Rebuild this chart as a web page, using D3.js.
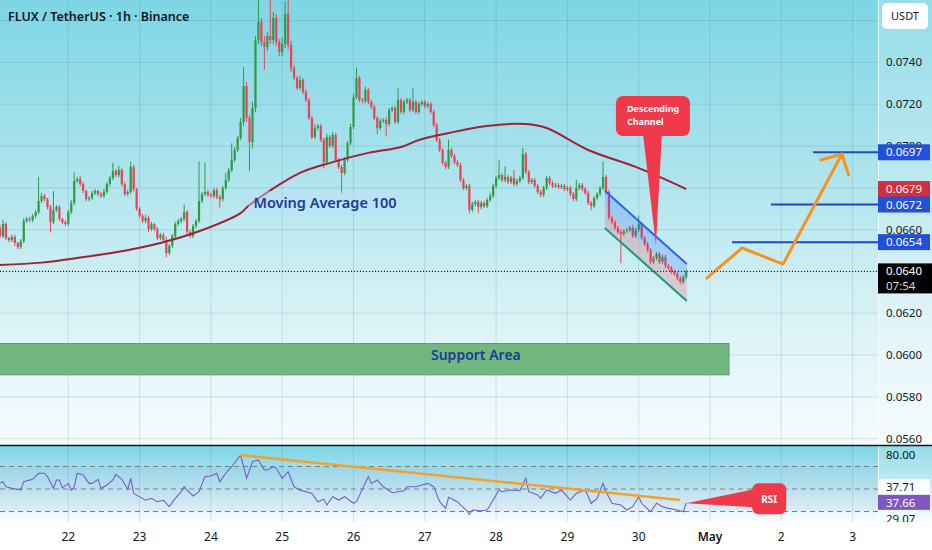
<!DOCTYPE html>
<html>
<head>
<meta charset="utf-8">
<script src="https://cdn.jsdelivr.net/npm/d3@7"></script>
<style>
  body { margin: 0; background: #fff; }
  svg { display: block; }
  text { font-family: "Noto Sans", sans-serif; }
</style>
</head>
<body>
<div id="chart"></div>
<script>
// FLUX/USDT 1h candles. Prices in units of 0.0001 USDT
// (660.8 -> 0.06608). Open of each candle is the previous close.
var firstCandle = Date.UTC(2025, 3, 21, 0);
var firstOpen = 655.0;

var close21 = [660.8,656.9,662.7,656.0,655.0,656.5,653.6,651.7,654.5,664.1,665.1,664.6,666.5,668.4,673.7,676.1,674.6,670.8,663.6,669.4,670.8,665.1,663.6,662.7];
var close22 = [668.4,672.7,683.3,684.2,681.8,678.5,674.6,675.1,677.5,678.5,677.0,676.1,678.0,681.8,684.7,688.0,686.1,688.5,681.8,677.0,678.0,690.0,679.4,669.9];
var close23 = [666.5,664.1,665.6,660.3,662.7,660.3,656.0,657.4,655.0,648.8,652.2,656.9,662.7,664.1,665.1,668.4,658.9,656.9,661.7,664.1,673.7,677.0,678.0,676.6];
var close24 = [676.1,678.9,675.6,674.6,679.9,683.7,688.5,693.3,698.1,703.8,711.5,728.7,713.4,701.9,718.2,750.7,759.3,749.8,747.4,752.6,750.7,761.2,749.8,745.0];
var close25 = [748.8,763.2,748.3,737.3,732.5,727.8,731.6,725.8,722.0,713.4,704.3,708.6,709.6,702.9,692.3,704.3,700.0,705.3,693.3,690.0,687.1,693.3,701.4,709.1];
var close26 = [723.4,732.5,722.0,721.5,726.8,721.1,718.7,713.4,708.6,712.0,712.4,710.5,717.2,718.2,711.5,722.0,716.3,721.1,722.0,717.2,721.1,716.3,720.1,721.1];
var close27 = [719.1,720.1,716.3,710.0,702.9,698.1,691.9,690.0,698.1,695.2,692.3,690.9,683.7,679.9,680.9,669.4,672.3,673.2,670.8,672.7,671.3,674.2,676.1,680.9];
var close28 = [684.7,686.1,683.7,685.2,682.8,684.7,681.8,683.3,684.7,696.2,687.6,682.8,683.7,680.9,678.0,676.6,679.9,684.7,682.3,680.9,681.3,680.4,680.9,679.4];
var close29 = [679.9,677.0,674.6,679.9,681.3,679.4,677.5,672.7,671.3,675.1,677.0,679.9,685.2,678.0,665.6,663.6,660.8,658.9,657.9,659.3,659.8,660.8,656.9,659.8];
var close30 = [662.7,656.0,653.1,650.2,644.5,646.4,648.3,644.5,646.9,642.6,641.6,639.7,638.8,636.8,634.9,637.3,640.0];

// upper / lower wick beyond the body, same units
var wickUp = [].concat(
  [1,1.5,2,1,0.5,1,1,0.5,1,1.5,1,1,1,1,11.5,1.5,1,0.5,1,9,1,1,0.5,1],
  [1,1.5,4,1,1.5,1,0.5,1,1,1,0.5,1,1.5,1,1,4,1,2,1,1,1,2.5,1,0.5],
  [1,1,1.5,1,1,0.5,1,1,1,1.5,1,1,1,1,1,3.5,1,1,1,1,19,1,14,1],
  [1,1,1,1,1,3.5,1,8,1.5,1,2,9,2,1.5,3,2,11,2,3,2,20,3,2,1.5],
  [3,6,7,2,1.5,1,2,1,1.5,1,1,2,1,1,1,1.5,1,1.5,1,1,1,1.5,1,1.5],
  [1.5,5,1,1,1.5,1,1,1,1,1,1,1.5,1,1,1,6,1,1,1,1,6.5,1,1,1],
  [1,1,1,1,1,1,1,1,5,1,1,1,1,1,1,1,1,1,1,1,1,1,1.5,1],
  [1,7,1,5,1,1,4,1,1,3,1,1,1,1,1,1,1,1,1,1,1,1,1,1],
  [1,1,1,4,1,1,1,1,1,1,1,1,7.5,1,1,1,1,1,1,1,1,1,1.5,1],
  [4,1,1,1,1,1,1,1,1,1,1,1,1,1,1,1,1]);
var wickDown = [].concat(
  [1,1,1,1,1,1,1.5,1,1,1,1,1,1,1,1,1,1,1,5,1,1,1,1,1],
  [1,1,1,1,1,1,1,1,1,1,1,1,1,1,1,1,1,1,1,1,1,1,1,1],
  [1,1,1,1.5,1,1,1,1,1,2,1,1,1,1,1,1,1,1,1,1,1,1,1,1],
  [1,1,1,4,1,1,1,1,1,1,1,2,2,14,3,2,2,2,11,2,2,2,2,2],
  [2,2,2,2,1,1,1,1,1,1,1,1,1,1,3,1,1,1,1,1,10,1,1,1],
  [1,1,1,1,1,1,1,1,3,1,1,6,1,1,1,1,1,1,1,1,1,1,1,1],
  [1,1,1,1,1,1,1,1,1,1,1,1,1,1,1,1.5,1,1,3,1,1,1,1,1],
  [1,1,1,1,1,1,1,1,1,1,1,1,1,1,1,1,1,1,1,1,1,1,1,1],
  [1,1,1,1,1,1,1,1,2,1,1,1,1,1,1,1,1,1,14,1,1,1,1,1],
  [1,1,1,1,1,1,1,1,1,1,1,1,1,1,1,1,1]);

// moving average 100: [hour from first candle, price]
var ma100 = [[0,643.0],[15,644.2],[28,646.6],[41,649.4],[55,653.6],[68,659.2],[82,667.9],[85,671.8],
  [102,687.1],[113,692.3],[125,696.7],[136,699.5],[142,702.9],[152,706.2],[165,709.6],[178,710.5],
  [185,708.6],[199,698.1],[215,690.0],[223,685.2],[232,679.4]];

// RSI(14): [hour, value]
var rsiPts = [[1,55],[2,56.5],[3,52],[5,50.6],[7,49.7],[8,49],[9,56.5],[12,58.6],[14,64],[16,64],[17,61],
  [19,50.6],[20,58],[21,58],[22,51],[24,55],[25,49],[26,52],[27,64],[29,62.4],[31,55],[32,55],[34,58.6],
  [35,50.6],[37,53.6],[39,58],[40,63],[42,58.6],[44,49.7],[45,59.5],[46,46],[48,43],[50,40],[52,41.7],
  [54,38.7],[56,40],[57,37.3],[58,34.3],[60,41.7],[62,47.6],[63,52],[64,49],[66,43.8],[68,47.6],[70,61],
  [72,61.6],[74,64],[75,56.5],[77,64],[79,69.8],[82,80.2],[84,59.5],[86,74.3],[88,75.8],[90,66.9],[91,66.9],
  [93,69.8],[94,68.4],[96,59.5],[98,65.4],[100,52],[102,49],[104,47.6],[106,46],[108,38.7],[110,40.8],
  [111,35.8],[113,43.2],[115,40.2],[117,43.2],[120,37.3],[121,38.7],[125,61],[126,55],[128,58],[130,52],
  [133,46.7],[135,47.6],[137,48.5],[138,52],[141,52],[143,53.6],[145,55],[147,52],[149,38.7],[151,32.8],
  [152,42.6],[155,38.7],[156,35.8],[158,31.3],[159,27.5],[160,31.3],[163,30.7],[165,31.3],[167,40.2],
  [169,49.1],[170,47.6],[173,49.1],[176,48.5],[178,59.5],[179,47.6],[182,44.7],[183,41.7],[185,49.1],
  [188,46.2],[190,49.1],[193,40.2],[195,46.2],[198,49.1],[200,37.3],[202,41.7],[204,55],[205,47.6],
  [207,37.3],[210,35.8],[212,31.3],[214,34.3],[216,43.2],[217,37.3],[220,29.8],[222,37.3],[224,34.3],
  [226,32.8],[229,31.3],[231,29.8],[232,37.66]];
var rsiTrend = [[81.8,80.2],[229.9,40.2]];
var rsiBands = [70, 50, 30];
var rsiAxisLabels = ["80.00", "37.71", "37.66", "29.07"];

// drawings
var supportZone = {from: -30, to: 246.4, low: 590.5, high: 605.5, label: "Support Area", labelHour: 161.2};
var channelUpper = [[204.6,678.6],[232.2,643.5]];
var channelLower = [[204.6,660.8],[232.2,625.8]];
var levels = [[274.7,697],[260.5,672],[247.4,654]];
var projection = [[238.6,636.4],[250.8,651.2],[264.6,643.5],[284.4,696.2]];
var maLabel = {hour: 110.4, price: 672.7, text: "Moving Average 100"};
var channelNote = {hour: 221.8, price: 652.6, text: ["Descending", "Channel"]};
var rsiNote = {hour: 232, value: 37.3, text: "RSI"};

var priceTicks = [0.0560,0.0580,0.0600,0.0620,0.0640,0.0660,0.0680,0.0700,0.0720,0.0740,0.0760];
var title = "FLUX / TetherUS \u00b7 1h \u00b7 Binance";
var countdown = "07:54";

// ---------------------------------------------------------------
var W = 932, H = 550, plotW = 878,
    mainBot = 445, rsiTop = 446, rsiBot = 522;
var HOUR = 3600e3;
var upCol = "#2f9a47", downCol = "#ec4257";

var closes = [].concat(close21, close22, close23, close24, close25, close26, close27, close28, close29, close30);
var candles = closes.map(function(c, i){
  var o = i ? closes[i-1] : firstOpen;
  return {t: firstCandle + i*HOUR, o: o/1e4, c: c/1e4,
          h: (Math.max(o, c) + wickUp[i])/1e4, l: (Math.min(o, c) - wickDown[i])/1e4};
});
function ht(h){ return new Date(firstCandle + h*HOUR); }

var x = d3.scaleUtc().domain([Date.UTC(2025,3,22), Date.UTC(2025,4,3)]).range([68.3, 852.6]);
var y = d3.scaleLinear().domain([0.0600, 0.0740]).range([355, 62.4]);
var yR = d3.scaleLinear().domain([30, 70]).range([511.5, 466.5]);
var px = function(d){ return x(ht(d[0])); },
    py = function(d){ return y(d[1]/1e4); };

var svg = d3.select("#chart").append("svg").attr("width", W).attr("height", H);
var defs = svg.append("defs");
function vgrad(id, stops){
  var g = defs.append("linearGradient").attr("id", id).attr("x1",0).attr("x2",0).attr("y1",0).attr("y2",1);
  stops.forEach(function(s){ g.append("stop").attr("offset", s[0]).attr("stop-color", s[1]); });
}
vgrad("bgMain", [[0,"#7dd6e5"],[0.35,"#a8e2ec"],[0.7,"#d8f2f6"],[1,"#f6fcfd"]]);
vgrad("bgRsi", [[0,"#7dd6e5"],[0.5,"#b7e7ef"],[1,"#fbfeff"]]);
defs.append("clipPath").attr("id","clipMain").append("rect").attr("width", plotW).attr("height", mainBot);
defs.append("clipPath").attr("id","clipRsi").append("rect").attr("y", rsiTop).attr("width", plotW).attr("height", rsiBot-rsiTop);

svg.append("rect").attr("width", W).attr("height", H).attr("fill", "#fff");
svg.append("rect").attr("width", W).attr("height", mainBot).attr("fill", "url(#bgMain)");
svg.append("rect").attr("y", rsiTop).attr("width", W).attr("height", rsiBot-rsiTop).attr("fill", "url(#bgRsi)");
svg.append("rect").attr("x", plotW).attr("width", W-plotW).attr("height", rsiBot).attr("fill", "rgba(255,255,255,0.18)");

var gridCol = "rgba(40,95,110,0.15)";
var days = d3.utcDay.range(Date.UTC(2025,3,22), Date.UTC(2025,4,4));
svg.append("g").selectAll("line").data(days).join("line")
  .attr("x1", d => x(d)).attr("x2", d => x(d)).attr("y1", 0).attr("y2", rsiBot)
  .attr("stroke", gridCol);
svg.append("g").selectAll("line").data(priceTicks).join("line")
  .attr("x1", 0).attr("x2", plotW).attr("y1", d => y(d)).attr("y2", d => y(d))
  .attr("stroke", gridCol);

// ---- main pane
var gm = svg.append("g").attr("clip-path", "url(#clipMain)");

gm.append("rect")
  .attr("x", x(ht(supportZone.from))).attr("width", x(ht(supportZone.to)) - x(ht(supportZone.from)))
  .attr("y", y(supportZone.high/1e4)).attr("height", y(supportZone.low/1e4) - y(supportZone.high/1e4))
  .attr("fill", "#72b67f").attr("stroke", "#5c9f6b");
gm.append("text").attr("x", x(ht(supportZone.labelHour))).attr("y", y(0.0600) + 5)
  .attr("text-anchor", "middle").attr("font-size", 14).attr("font-weight", 600)
  .attr("fill", "#1d3a97").text(supportZone.label);

var bw = 2.2;
gm.append("g").selectAll("line").data(candles).join("line")
  .attr("x1", d => x(d.t)).attr("x2", d => x(d.t))
  .attr("y1", d => y(d.h)).attr("y2", d => y(d.l))
  .attr("stroke", d => d.c >= d.o ? upCol : downCol).attr("stroke-width", 1);
gm.append("g").selectAll("rect").data(candles).join("rect")
  .attr("x", d => x(d.t) - bw/2).attr("width", bw)
  .attr("y", d => y(Math.max(d.o, d.c)))
  .attr("height", d => Math.max(1, Math.abs(y(d.o) - y(d.c))))
  .attr("fill", d => d.c >= d.o ? upCol : downCol);

gm.append("path").datum(ma100)
  .attr("d", d3.line().x(px).y(py).curve(d3.curveCatmullRom))
  .attr("fill", "none").attr("stroke", "#9e2236").attr("stroke-width", 2);

// descending channel: blue upper half, red lower half
var mid = channelUpper.map((p, i) => [p[0], (p[1] + channelLower[i][1]) / 2]);
var poly = d3.line().x(px).y(py);
gm.append("path").attr("d", poly(channelUpper.concat(mid.slice().reverse())) + "Z")
  .attr("fill", "rgba(41,98,255,0.22)");
gm.append("path").attr("d", poly(mid.concat(channelLower.slice().reverse())) + "Z")
  .attr("fill", "rgba(242,54,69,0.2)");
gm.append("path").attr("d", poly(channelUpper)).attr("stroke", "#2962ff").attr("stroke-width", 2).attr("fill", "none");
gm.append("path").attr("d", poly(channelLower)).attr("stroke", "#1e9a6e").attr("stroke-width", 2).attr("fill", "none");

// MA label
var mal = gm.append("g");
var malT = mal.append("text").attr("x", x(ht(maLabel.hour))).attr("y", y(maLabel.price/1e4) + 5)
  .attr("text-anchor", "middle").attr("font-size", 14.5).attr("font-weight", 600)
  .attr("fill", "#1d3a97").text(maLabel.text);
var bb = malT.node().getBBox();
mal.insert("rect", "text").attr("x", bb.x - 5).attr("y", bb.y - 1).attr("width", bb.width + 10).attr("height", bb.height + 2)
  .attr("fill", "rgba(190,225,250,0.45)");

// target levels and projected path
gm.append("g").selectAll("line").data(levels).join("line")
  .attr("x1", px).attr("x2", plotW).attr("y1", py).attr("y2", py)
  .attr("stroke", "#1c48cc").attr("stroke-width", 2);
var orange = "#f7921e";
gm.append("path").attr("d", poly(projection)).attr("fill", "none")
  .attr("stroke", orange).attr("stroke-width", 3).attr("stroke-linejoin", "round");
var pa = projection[projection.length-2], pb = projection[projection.length-1];
var ax = px(pb), ay = py(pb), ang = Math.atan2(py(pa) - ay, px(pa) - ax);
[-0.8, 0.8].forEach(function(da){
  gm.append("line").attr("x1", ax).attr("y1", ay)
    .attr("x2", ax + 22*Math.cos(ang + da)).attr("y2", ay + 22*Math.sin(ang + da))
    .attr("stroke", orange).attr("stroke-width", 3).attr("stroke-linecap", "round");
});

// current price line
var last = candles[candles.length-1];
gm.append("line").attr("x1", 0).attr("x2", plotW).attr("y1", y(last.c)).attr("y2", y(last.c))
  .attr("stroke", "#131722").attr("stroke-dasharray", "1,2");

// Descending Channel callout
var red = "#f03a4c";
var cx = x(ht(channelNote.hour)), cy = y(channelNote.price/1e4);
gm.append("rect").attr("x", cx - 40).attr("y", cy - 149).attr("width", 74).attr("height", 40).attr("rx", 7).attr("fill", red);
gm.append("path").attr("d", "M" + (cx-13) + "," + (cy-112) + "L" + (cx+6) + "," + (cy-112) + "L" + cx + "," + cy + "Z").attr("fill", red);
gm.append("text").attr("x", cx - 29).attr("y", cy - 133).attr("font-size", 9).attr("font-weight", 700)
  .attr("fill", "#fff")
  .selectAll("tspan").data(channelNote.text).join("tspan")
  .attr("x", cx - 29).attr("dy", (d, i) => i ? 12.5 : 0).text(d => d);

// ---- RSI pane
var gr = svg.append("g").attr("clip-path", "url(#clipRsi)");
gr.append("rect").attr("x", 0).attr("width", plotW).attr("y", yR(70)).attr("height", yR(30) - yR(70))
  .attr("fill", "rgba(126,87,194,0.06)");
gr.append("g").selectAll("line").data(rsiBands).join("line")
  .attr("x1", 0).attr("x2", plotW).attr("y1", d => yR(d)).attr("y2", d => yR(d))
  .attr("stroke", "#7a8088").attr("stroke-dasharray", "5,4").attr("stroke-width", 1);
var rline = d3.line().x(d => x(ht(d[0]))).y(d => yR(d[1]));
gr.append("path").attr("d", rline(rsiPts)).attr("fill", "none").attr("stroke", "#7a5cc8").attr("stroke-width", 1.1);
gr.append("path").attr("d", rline(rsiTrend)).attr("fill", "none").attr("stroke", "#f2a12e").attr("stroke-width", 2.5);
var rx = x(ht(rsiNote.hour)), ry = yR(rsiNote.value);
gr.append("path").attr("d", "M" + rx + "," + ry + "L" + (rx+68) + "," + (ry-14) + "L" + (rx+68) + "," + (ry+4) + "Z").attr("fill", red);
gr.append("rect").attr("x", rx + 66).attr("y", ry - 20).attr("width", 34).attr("height", 31).attr("rx", 6).attr("fill", red);
gr.append("text").attr("x", rx + 83).attr("y", ry - 0.5).attr("text-anchor", "middle").attr("font-size", 10)
  .attr("font-weight", 700).attr("fill", "#fff").text(rsiNote.text);

// ---- price axis
var ax0 = plotW + 8;
svg.append("line").attr("x1", plotW + 0.5).attr("x2", plotW + 0.5).attr("y1", 0).attr("y2", rsiBot)
  .attr("stroke", "rgba(255,255,255,0.7)");
var fmt = d3.format(".4f");
var tagPrices = levels.map(l => l[1]/1e4).concat([ma100[ma100.length-1][1]/1e4, last.c]);
// tick labels that sit fully under a tag (or the USDT box) are not drawn
var shownTicks = priceTicks.filter(p => y(p) > 30 && tagPrices.every(q => Math.abs(y(q) - y(p)) > 5));
svg.append("g").selectAll("text").data(shownTicks).join("text")
  .attr("x", ax0).attr("y", d => y(d) + 4).attr("font-size", 11.5).attr("fill", "#131722").text(fmt);

function tag(p, bg, fg, h){
  var g = svg.append("g");
  g.append("rect").attr("x", plotW).attr("y", y(p) - 8).attr("width", 52).attr("height", h || 16).attr("fill", bg);
  g.append("text").attr("x", ax0).attr("y", y(p) + 4).attr("font-size", 11.5).attr("fill", fg).text(fmt(p));
  return g;
}
tag(levels[0][1]/1e4, "#2250d6", "#fff");
tag(ma100[ma100.length-1][1]/1e4, "#d2303f", "#fff");
tag(levels[1][1]/1e4, "#2250d6", "#fff");
tag(levels[2][1]/1e4, "#2250d6", "#fff");
var cur = tag(last.c, "#000", "#fff", 30);
cur.select("rect").attr("width", 54);
cur.append("text").attr("x", ax0).attr("y", y(last.c) + 18.5).attr("font-size", 11.5).attr("fill", "#d8d8d8").text(countdown);

svg.append("rect").attr("x", plotW + 4).attr("y", 3).attr("width", 46).attr("height", 26).attr("rx", 5).attr("fill", "#fff");
svg.append("text").attr("x", plotW + 27).attr("y", 20).attr("text-anchor", "middle").attr("font-size", 11)
  .attr("fill", "#131722").text("USDT");

// RSI axis labels
var rc = yR(37.66);
svg.append("text").attr("x", ax0).attr("y", yR(80) + 4).attr("font-size", 11.5).attr("fill", "#131722").text(rsiAxisLabels[0]);
svg.append("rect").attr("x", plotW).attr("y", rc - 23.5).attr("width", 52).attr("height", 15).attr("fill", "#fff");
svg.append("text").attr("x", ax0).attr("y", rc - 12).attr("font-size", 11.5).attr("fill", "#131722").text(rsiAxisLabels[1]);
svg.append("rect").attr("x", plotW).attr("y", rc - 8).attr("width", 52).attr("height", 15).attr("fill", "#7e57c2");
svg.append("text").attr("x", ax0).attr("y", rc + 4).attr("font-size", 11.5).attr("fill", "#fff").text(rsiAxisLabels[2]);
svg.append("text").attr("x", ax0).attr("y", rc + 20).attr("font-size", 11.5).attr("fill", "#131722").text(rsiAxisLabels[3]);

// bottom time axis strip
svg.append("rect").attr("y", rsiBot).attr("width", W).attr("height", H - rsiBot).attr("fill", "#fff");
svg.append("g").selectAll("text").data(days.slice(0, 12)).join("text")
  .attr("x", d => x(d)).attr("y", 541).attr("text-anchor", "middle").attr("font-size", 12)
  .attr("font-weight", d => d.getUTCDate() === 1 ? 600 : 400)
  .attr("fill", "#131722")
  .text(d => d.getUTCDate() === 1 ? d3.utcFormat("%b")(d) : d.getUTCDate());

// pane separator
svg.append("line").attr("x1", 0).attr("x2", W).attr("y1", mainBot + 0.5).attr("y2", mainBot + 0.5)
  .attr("stroke", "#131722").attr("stroke-width", 1.5);

svg.append("text").attr("x", 8).attr("y", 21).attr("font-size", 12.5).attr("font-weight", 600)
  .attr("fill", "#131722").text(title);
</script>
</body>
</html>
